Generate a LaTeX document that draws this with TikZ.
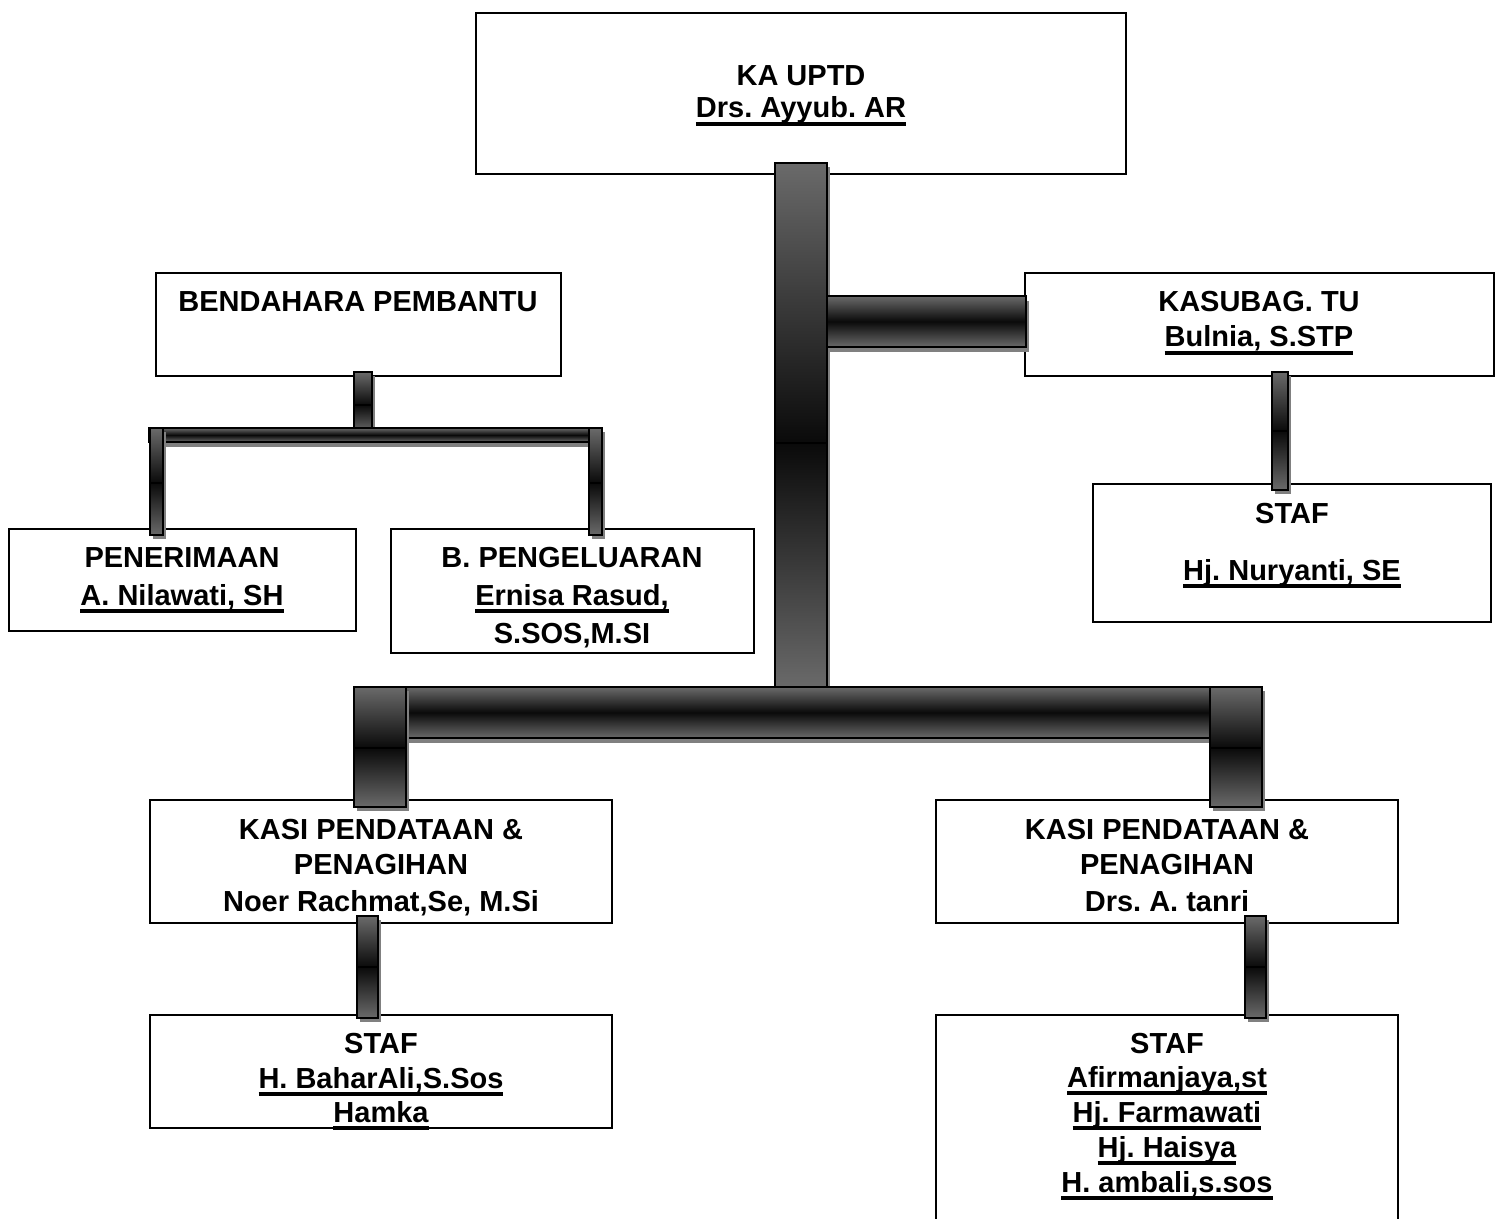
\documentclass[tikz,border=0pt]{standalone}
\usepackage{fontspec}
\setmainfont{Liberation Sans}
\usetikzlibrary{fit}
\frenchspacing
\definecolor{barg}{HTML}{6A6A6A}
\definecolor{barblk}{HTML}{0A0A0A}
\definecolor{barshadow}{HTML}{808080}
\newcommand\myul[1]{\setbox0\hbox{#1}\rlap{\rule[-5.8pt]{\wd0}{2.7pt}}\box0}
\newcommand\vbarr[5]{%
  \fill[barshadow] (#1+3,#2+4) rectangle (#3+3,#5+4);
  \shade[top color=barg, bottom color=barblk] (#1,#2) rectangle (#3,#4);
  \shade[top color=barblk, bottom color=barg] (#1,#4) rectangle (#3,#5);
  \draw[barline] (#1,#2) rectangle (#3,#5) (#1,#4) -- (#3,#4);}
\newcommand\hbarr[4]{%
  \fill[barshadow] (#1+3,#2+5) rectangle (#3+3,#4+5);
  \shade[top color=barg, bottom color=barg, middle color=barblk] (#1,#2) rectangle (#3,#4);
  \draw[barline] (#1,#2) rectangle (#3,#4);}
\tikzset{
  orgbox/.style={draw=black, line width=1.5pt, fill=white, inner sep=0pt},
  barline/.style={draw=black, line width=1.4pt},
  txt/.style={anchor=base, inner sep=0pt, font=\fontsize{21.75pt}{26pt}\selectfont\bfseries}
}
\begin{document}
\begin{tikzpicture}[x=0.75pt, y=-0.75pt]
\clip (0,0) rectangle (1496,1219);
\fill[white] (0,0) rectangle (1496,1219);
% boxes
\node[orgbox, fit={(476,13) (1126,174)}] (ka) {};
\node[orgbox, fit={(1025,273) (1494,376)}] (kasubag) {};
\node[orgbox, fit={(1093,484) (1491,622)}] (staftu) {};
\node[orgbox, fit={(156,273) (561,376)}] (bend) {};
\node[orgbox, fit={(9,529) (356,631)}] (pen) {};
\node[orgbox, fit={(391,529) (754,653)}] (peng) {};
\node[orgbox, fit={(150,800) (612,923)}] (kasia) {};
\node[orgbox, fit={(936,800) (1398,923)}] (kasib) {};
\node[orgbox, fit={(150,1015) (612,1128)}] (stafa) {};
\node[orgbox, fit={(936,1015) (1398,1240)}] (stafb) {};
% texts
\node[txt] (kaA) at (801,86) {KA UPTD};
\node[txt] (kaB) at (801,118) {\myul{Drs. Ayyub. AR}};
\node[txt] (ksA) at (1259,312) {KASUBAG. TU};
\node[txt] (ksB) at (1259,347) {\myul{Bulnia, S.STP}};
\node[txt] (stA) at (1292,523) {STAF};
\node[txt] (stB) at (1292,580) {\myul{Hj. Nuryanti, SE}};
\node[txt] (bdA) at (358,312) {BENDAHARA PEMBANTU};
\node[txt] (pnA) at (182,567) {PENERIMAAN};
\node[txt] (pnB) at (182,605) {\myul{A. Nilawati, SH}};
\node[txt] (pgA) at (572,567) {B. PENGELUARAN};
\node[txt] (pgB) at (572,605) {\myul{Ernisa Rasud,}};
\node[txt] (pgC) at (572,643) {S.SOS,M.SI};
\node[txt] (kaaA) at (381,839) {KASI PENDATAAN \&};
\node[txt] (kaaB) at (381,874) {PENAGIHAN};
\node[txt] (kaaC) at (381,911) {Noer Rachmat,Se, M.Si};
\node[txt] (kabA) at (1167,839) {KASI PENDATAAN \&};
\node[txt] (kabB) at (1167,874) {PENAGIHAN};
\node[txt] (kabC) at (1167,911) {Drs. A. tanri};
\node[txt] (saA) at (381,1053) {STAF};
\node[txt] (saB) at (381,1088) {\myul{H. BaharAli,S.Sos}};
\node[txt] (saC) at (381,1122) {\myul{Hamka}};
\node[txt] (sbA) at (1167,1053) {STAF};
\node[txt] (sbB) at (1167,1087) {\myul{Afirmanjaya,st}};
\node[txt] (sbC) at (1167,1122) {\myul{Hj. Farmawati}};
\node[txt] (sbD) at (1167,1157) {\myul{Hj. Haisya}};
\node[txt] (sbE) at (1167,1192) {\myul{H. ambali,s.sos}};
% bars
\vbarr{775}{163}{827}{443}{688}
\hbarr{827}{296}{1026}{347}
\vbarr{1272}{372}{1288}{431}{490}
\vbarr{354}{372}{372}{405}{432}
\hbarr{149}{428}{602}{442}
\vbarr{150}{428}{163}{483}{535}
\vbarr{589}{428}{602}{483}{535}
\hbarr{354}{687}{1262}{738}
\vbarr{354}{687}{406}{748}{807}
\vbarr{1210}{687}{1262}{748}{807}
\vbarr{357}{916}{378}{967}{1018}
\vbarr{1245}{916}{1266}{967}{1018}
\end{tikzpicture}
\end{document}
